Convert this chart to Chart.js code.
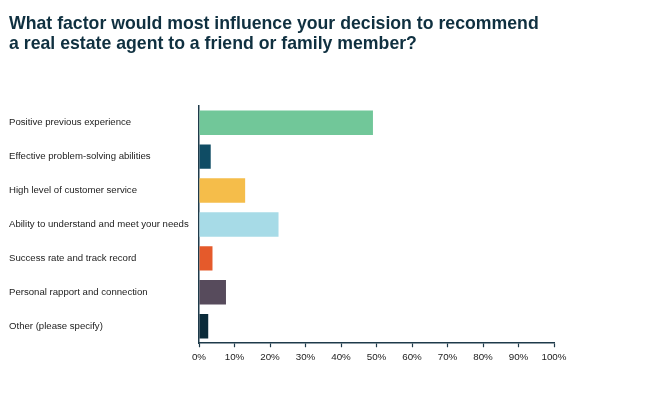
<!DOCTYPE html>
<html lang="en">
<head>
    <meta charset="UTF-8">
    <title>Recommendation factors</title>
    <script src="https://cdn.jsdelivr.net/npm/chart.js"></script>
    <style>
        html, body { margin: 0; padding: 0; background: #fff; }
        #wrap { width: 650px; height: 400px; }
    </style>
</head>
<body>
    <div id="wrap"><canvas id="factorChart"></canvas></div>

    <script>
        const factors = [
            'Positive previous experience',
            'Effective problem-solving abilities',
            'High level of customer service',
            'Ability to understand and meet your needs',
            'Success rate and track record',
            'Personal rapport and connection',
            'Other (please specify)'
        ];
        const shares = [49, 3.3, 13, 22.4, 3.8, 7.6, 2.6];
        const barColors = ['#71c799', '#0f4c64', '#f5bd4a', '#a7dbe7', '#e55a2b', '#574b5c', '#0b2b3a'];
        const titleLines = [
            'What factor would most influence your decision to recommend',
            'a real estate agent to a friend or family member?'
        ];

        const axisColor = '#1e3a4a';

        const ctx = document.getElementById('factorChart').getContext('2d');
        new Chart(ctx, {
            type: 'bar',
            data: {
                labels: factors,
                datasets: [{
                    data: shares,
                    backgroundColor: barColors,
                    borderWidth: 0,
                    categoryPercentage: 1,
                    barPercentage: 0.72
                }]
            },
            options: {
                indexAxis: 'y',
                responsive: true,
                maintainAspectRatio: false,
                animation: false,
                layout: { padding: { left: 9, right: 96, top: 0, bottom: 33 } },
                plugins: {
                    legend: { display: false },
                    tooltip: { enabled: false },
                    title: {
                        display: true,
                        text: titleLines,
                        align: 'start',
                        color: '#0f3040',
                        font: { family: 'Arial, "Liberation Sans", sans-serif', size: 17.7, weight: 'bold', lineHeight: 1.15 },
                        padding: { top: 14, bottom: 51 }
                    }
                },
                scales: {
                    x: {
                        min: 0,
                        max: 100,
                        ticks: {
                            stepSize: 10,
                            color: '#222',
                            padding: 4,
                            font: { family: 'Arial, "Liberation Sans", sans-serif', size: 9.8 },
                            callback: v => v + '%'
                        },
                        grid: {
                            drawOnChartArea: false,
                            drawTicks: true,
                            tickLength: 4,
                            tickColor: axisColor,
                            tickWidth: 1.2
                        },
                        border: { display: true, color: axisColor, width: 1.5 }
                    },
                    y: {
                        ticks: {
                            crossAlign: 'far',
                            color: '#222',
                            font: { family: 'Arial, "Liberation Sans", sans-serif', size: 9.6 }
                        },
                        grid: { display: false },
                        border: { display: true, color: axisColor, width: 1.5 },
                        afterFit: scale => { scale.width = 190; }
                    }
                }
            }
        });
    </script>
</body>
</html>
